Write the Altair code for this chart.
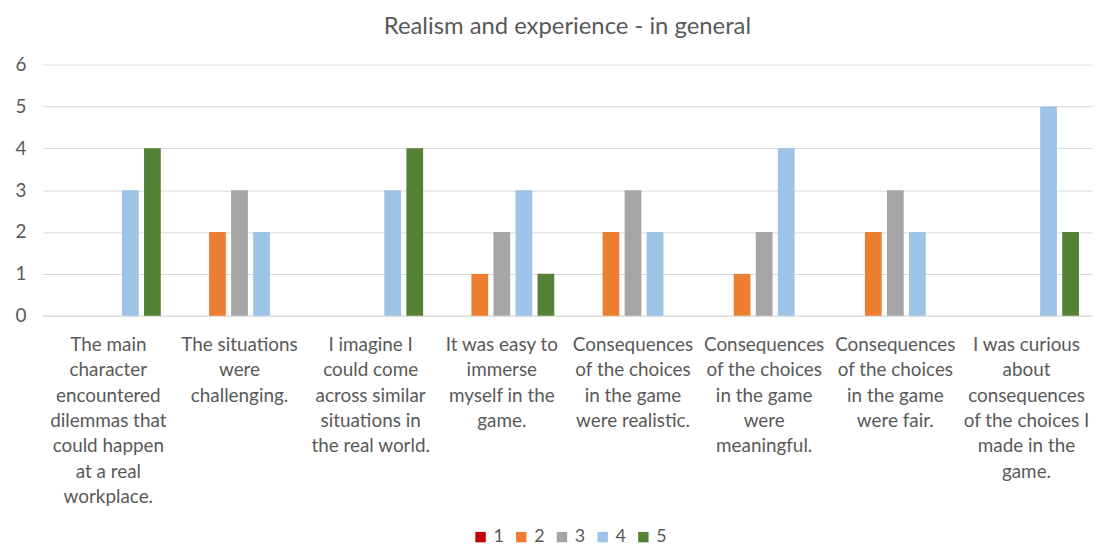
import altair as alt
import pandas as pd

categories = [
    "The main|character|encountered|dilemmas that|could happen|at a real|workplace.",
    "The situations|were|challenging.",
    "I imagine I|could come|across similar|situations in|the real world.",
    "It was easy to|immerse|myself in the|game.",
    "Consequences|of the choices|in the game|were realistic.",
    "Consequences|of the choices|in the game|were|meaningful.",
    "Consequences|of the choices|in the game|were fair.",
    "I was curious|about|consequences|of the choices I|made in the|game.",
]
series = ["1", "2", "3", "4", "5"]
values_1 = [0, 0, 0, 0, 0, 0, 0, 0]
values_2 = [0, 2, 0, 1, 2, 1, 2, 0]
values_3 = [0, 3, 0, 2, 3, 2, 3, 0]
values_4 = [3, 2, 3, 3, 2, 4, 2, 5]
values_5 = [4, 0, 4, 1, 0, 0, 0, 2]
colors = ["#C00000", "#ED7D31", "#A5A5A5", "#9DC3E6", "#548235"]

rows = []
for s, vals in zip(series, [values_1, values_2, values_3, values_4, values_5]):
    for c, v in zip(categories, vals):
        rows.append({"cat": c, "series": s, "value": v})
df = pd.DataFrame(rows)

FONT = "Lato"
TXT = "#595959"

chart = alt.Chart(df).mark_bar().encode(
    x=alt.X("cat:N", sort=categories, title=None,
            scale=alt.Scale(paddingInner=0.2, paddingOuter=0.1),
            axis=alt.Axis(labelExpr="split(datum.label, '|')", labelAngle=0,
                          labelFontSize=19, labelColor=TXT, labelFont=FONT,
                          labelLineHeight=25.5, labelLimit=0, labelOverlap=False,
                          labelPadding=20, labelBaseline="top",
                          ticks=False, domainColor="#D9D9D9", grid=False)),
    xOffset=alt.XOffset("series:N", sort=series,
                        scale=alt.Scale(paddingInner=0.24, paddingOuter=0)),
    y=alt.Y("value:Q", title=None,
            scale=alt.Scale(domain=[0, 6], nice=False),
            axis=alt.Axis(values=[0, 1, 2, 3, 4, 5, 6], labelFontSize=19,
                          labelColor=TXT, labelFont=FONT, labelPadding=17,
                          ticks=False, domain=False, gridColor="#D9D9D9")),
    color=alt.Color("series:N", sort=series,
                    scale=alt.Scale(domain=series, range=colors),
                    legend=alt.Legend(title=None, orient="none", direction="horizontal",
                                      legendX=432, legendY=467, symbolType="square",
                                      symbolSize=110, symbolStrokeWidth=0,
                                      labelFontSize=18, labelColor=TXT, labelFont=FONT,
                                      labelOffset=4, columnPadding=8, symbolOffset=0)),
).properties(
    width=1057, height=253,
    title=alt.TitleParams("Realism and experience - in general", fontSize=24,
                          font=FONT, color=TXT, fontWeight="normal", offset=17),
    autosize=alt.AutoSizeParams(type="none"),
    padding={"left": 35, "top": 55, "right": 10, "bottom": 230},
).configure_view(stroke=None)

chart.save("out.html", embed_options={"renderer": "svg", "actions": False})
